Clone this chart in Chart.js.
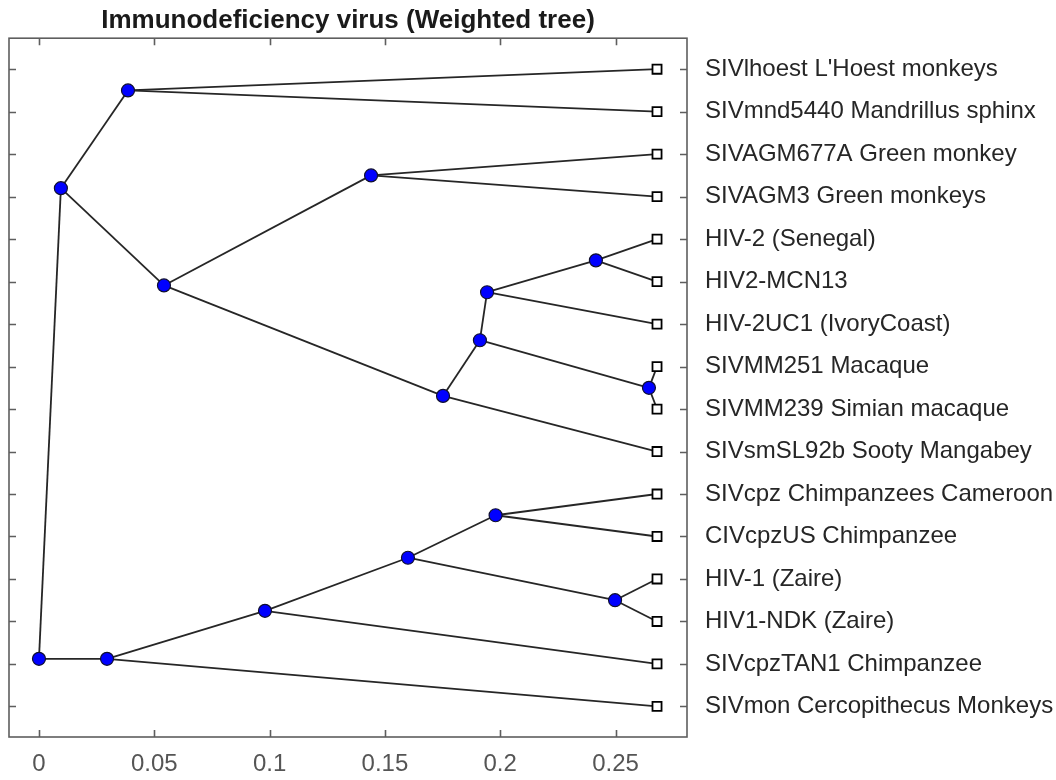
<!DOCTYPE html>
<html>
<head>
<meta charset="utf-8">
<title>Immunodeficiency virus (Weighted tree)</title>
<script src="https://cdn.jsdelivr.net/npm/chart.js@4.4.1/dist/chart.umd.min.js"></script>
<style>
  html, body { margin: 0; padding: 0; background: #fff; }
  #chartContainer { width: 1056px; height: 780px; }
</style>
</head>
<body>
<div id="chartContainer"><canvas id="treeChart"></canvas></div>
<script>
// Leaf names, top to bottom (row 1 = top)
const leafNames = [
  'SIVlhoest L\'Hoest monkeys',
  'SIVmnd5440 Mandrillus sphinx',
  'SIVAGM677A Green monkey',
  'SIVAGM3 Green monkeys',
  'HIV-2 (Senegal)',
  'HIV2-MCN13',
  'HIV-2UC1 (IvoryCoast)',
  'SIVMM251 Macaque',
  'SIVMM239 Simian macaque',
  'SIVsmSL92b Sooty Mangabey',
  'SIVcpz Chimpanzees Cameroon',
  'CIVcpzUS Chimpanzee',
  'HIV-1 (Zaire)',
  'HIV1-NDK (Zaire)',
  'SIVcpzTAN1 Chimpanzee',
  'SIVmon Cercopithecus Monkeys'
];
// Distance from root for every leaf
const leafDist = [0.268, 0.268, 0.268, 0.268, 0.268, 0.268, 0.268, 0.268,
                  0.268, 0.268, 0.268, 0.268, 0.268, 0.268, 0.268, 0.268];

// Branch (internal) nodes: distance from root and row position
const nodeDist = [0.0386, 0.144, 0.2415, 0.1943, 0.2645, 0.1912, 0.1752, 0.0542,
                  0.0095, 0.198, 0.2498, 0.160, 0.098, 0.0295, 0];
const nodeRow  = [1.5, 3.5, 5.5, 6.25, 8.5, 7.38, 8.69, 6.09,
                  3.80, 11.5, 13.5, 12.5, 13.75, 14.88, 14.88];
// Children of each branch node (0-15 = leaves, 16+ = branch nodes)
const nodeChildren = [[0, 1], [2, 3], [4, 5], [18, 6], [7, 8], [19, 20], [21, 9], [17, 22],
                      [16, 23], [10, 11], [12, 13], [25, 26], [27, 14], [28, 15], [24, 29]];

const xTicks = [0, 0.05, 0.1, 0.15, 0.2, 0.25];

// position of any node (leaf or branch) in data units
function nodePoint(k) {
  if (k < leafNames.length) return { x: leafDist[k], y: k + 1 };
  const b = k - leafNames.length;
  return { x: nodeDist[b], y: nodeRow[b] };
}

const datasets = [];

// branch lines
nodeChildren.forEach((kids, b) => {
  kids.forEach(c => {
    datasets.push({
      data: [nodePoint(leafNames.length + b), nodePoint(c)],
      showLine: true,
      borderColor: '#262626',
      borderWidth: 1.8,
      pointRadius: 0,
      order: 2
    });
  });
});

// branch node markers
datasets.push({
  data: nodeDist.map((d, b) => ({ x: d, y: nodeRow[b] })),
  pointStyle: 'circle',
  pointRadius: 6.5,
  backgroundColor: '#0000ff',
  borderColor: '#101030',
  borderWidth: 1.2,
  order: 0
});

// leaf markers
datasets.push({
  data: leafDist.map((d, i) => ({ x: d, y: i + 1 })),
  pointStyle: 'rect',
  pointRadius: 6.4,
  backgroundColor: '#ffffff',
  borderColor: '#000000',
  borderWidth: 1.8,
  order: 1
});

// axes box with inward ticks, like the original figure
const framePlugin = {
  id: 'frame',
  afterDraw(chart) {
    const { ctx, chartArea: a, scales } = chart;
    ctx.save();
    ctx.strokeStyle = '#5e5e5e';
    ctx.lineWidth = 1.6;
    ctx.strokeRect(a.left, a.top, a.right - a.left, a.bottom - a.top);
    ctx.beginPath();
    xTicks.forEach(v => {
      const px = Math.round(scales.x.getPixelForValue(v)) + 0.5;
      ctx.moveTo(px, a.bottom); ctx.lineTo(px, a.bottom - 7);
      ctx.moveTo(px, a.top); ctx.lineTo(px, a.top + 7);
    });
    leafNames.forEach((n, i) => {
      const py = Math.round(scales.y.getPixelForValue(i + 1)) + 0.5;
      ctx.moveTo(a.left, py); ctx.lineTo(a.left + 7, py);
      ctx.moveTo(a.right, py); ctx.lineTo(a.right - 7, py);
    });
    ctx.stroke();
    ctx.restore();
  }
};

const ctx = document.getElementById('treeChart').getContext('2d');
new Chart(ctx, {
  type: 'scatter',
  data: { datasets: datasets },
  options: {
    responsive: true,
    maintainAspectRatio: false,
    animation: false,
    layout: { padding: { left: 9, top: 0, right: 0, bottom: 0 } },
    plugins: {
      legend: { display: false },
      tooltip: { enabled: false },
      title: {
        display: true,
        fullSize: false,
        text: 'Immunodeficiency virus (Weighted tree)',
        color: '#1a1a1a',
        font: { family: 'Liberation Sans, Arial, sans-serif', size: 26, weight: 'bold' },
        padding: { top: 5, bottom: 2 }
      }
    },
    scales: {
      x: {
        type: 'linear',
        min: -0.013,
        max: 0.281,
        grid: { display: false, drawTicks: false },
        border: { display: false },
        afterBuildTicks: scale => { scale.ticks = xTicks.map(v => ({ value: v })); },
        afterFit: scale => { scale.height = 43; },
        ticks: {
          padding: 13,
          color: '#555555',
          font: { family: 'Liberation Sans, Arial, sans-serif', size: 24 },
          callback: v => String(v)
        }
      },
      y: {
        type: 'linear',
        display: false,
        reverse: true,
        min: 0.27,
        max: 16.72
      },
      y2: {
        type: 'linear',
        position: 'right',
        reverse: true,
        min: 0.27,
        max: 16.72,
        grid: { display: false, drawTicks: false },
        border: { display: false },
        afterBuildTicks: scale => { scale.ticks = leafNames.map((n, i) => ({ value: i + 1 })); },
        afterFit: scale => { scale.width = 369; },
        ticks: {
          padding: 18,
          color: '#262626',
          font: { family: 'Liberation Sans, Arial, sans-serif', size: 24 },
          callback: v => leafNames[v - 1]
        }
      }
    }
  },
  plugins: [framePlugin]
});
</script>
</body>
</html>
